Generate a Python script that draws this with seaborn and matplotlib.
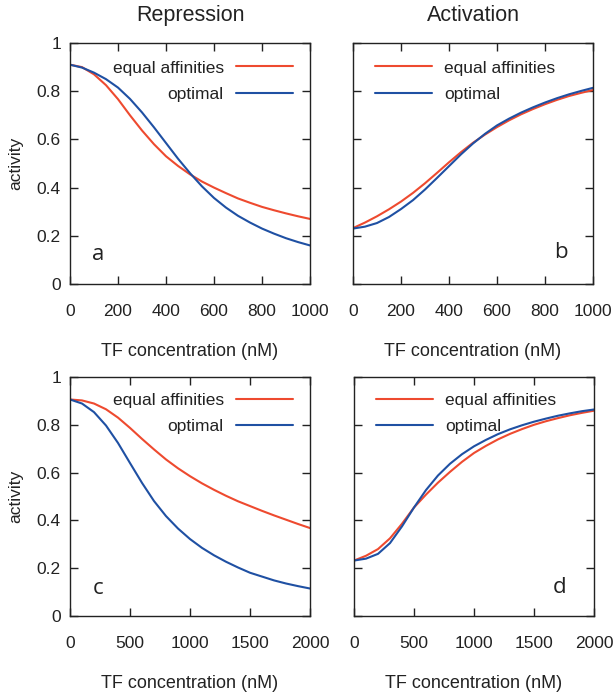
import numpy as np
import pandas as pd
import seaborn as sns
import matplotlib.pyplot as plt
from matplotlib.ticker import FormatStrFormatter

# values
x_short = [0, 50, 100, 150, 200, 250, 300, 350, 400, 450, 500,
           550, 600, 650, 700, 750, 800, 850, 900, 950, 1000]
x_long = [0, 100, 200, 300, 400, 500, 600, 700, 800, 900, 1000,
          1100, 1200, 1300, 1400, 1500, 1600, 1700, 1800, 1900, 2000]

rep_equal_a = [0.910, 0.900, 0.870, 0.825, 0.767, 0.700, 0.637, 0.580, 0.530, 0.490, 0.455,
               0.425, 0.400, 0.377, 0.355, 0.337, 0.320, 0.306, 0.293, 0.281, 0.270]
rep_opt_a = [0.910, 0.898, 0.877, 0.850, 0.815, 0.768, 0.712, 0.650, 0.585, 0.520, 0.460,
             0.405, 0.357, 0.317, 0.283, 0.255, 0.230, 0.209, 0.190, 0.174, 0.160]

act_equal_b = [0.232, 0.255, 0.281, 0.310, 0.342, 0.378, 0.418, 0.461, 0.505, 0.547, 0.586,
               0.620, 0.651, 0.679, 0.704, 0.726, 0.746, 0.764, 0.780, 0.793, 0.805]
act_opt_b = [0.230, 0.238, 0.253, 0.278, 0.311, 0.348, 0.392, 0.440, 0.489, 0.538, 0.583,
             0.623, 0.658, 0.686, 0.711, 0.733, 0.753, 0.771, 0.787, 0.801, 0.814]

rep_equal_c = [0.906, 0.902, 0.889, 0.865, 0.830, 0.787, 0.741, 0.697, 0.655, 0.618, 0.585,
               0.555, 0.528, 0.503, 0.480, 0.460, 0.440, 0.421, 0.403, 0.385, 0.368]
rep_opt_c = [0.906, 0.889, 0.853, 0.797, 0.724, 0.640, 0.557, 0.481, 0.418, 0.366, 0.322,
             0.285, 0.254, 0.227, 0.203, 0.181, 0.165, 0.149, 0.136, 0.125, 0.115]

act_equal_d = [0.232, 0.252, 0.280, 0.325, 0.386, 0.454, 0.508, 0.558, 0.603, 0.645, 0.682,
               0.712, 0.739, 0.762, 0.782, 0.800, 0.815, 0.828, 0.840, 0.850, 0.859]
act_opt_d = [0.232, 0.240, 0.260, 0.305, 0.375, 0.454, 0.527, 0.588, 0.637, 0.677, 0.710,
             0.737, 0.761, 0.781, 0.798, 0.813, 0.826, 0.838, 0.848, 0.857, 0.864]

labels = ["equal affinities", "optimal"]
RED = "#ee4a2f"
BLUE = "#1f50a3"
TXT = "#222222"

sns.set_style("ticks")
plt.rcParams['font.family'] = ['Liberation Sans', 'DejaVu Sans']
plt.rcParams.update({
    'xtick.direction': 'in', 'ytick.direction': 'in',
    'xtick.top': True, 'ytick.right': True,
    'xtick.major.size': 5.5, 'ytick.major.size': 5.5,
    'axes.edgecolor': TXT, 'xtick.color': TXT, 'ytick.color': TXT,
    'text.color': TXT, 'axes.labelcolor': TXT,
})

fig = plt.figure(figsize=(6.15, 6.95), dpi=100)
W, H = 615, 695
boxes = {
    'a': (70, 284, 240, 241),
    'b': (353, 284, 240, 241),
    'c': (70, 616, 240, 239),
    'd': (354, 616, 240, 239),
}
panels = {
    'a': (x_short, rep_equal_a, rep_opt_a, 1000, 200, "Repression", (117, 0.124), 0.928),
    'b': (x_short, act_equal_b, act_opt_b, 1000, 200, "Activation", (867, 0.129), 0.928),
    'c': (x_long, rep_equal_c, rep_opt_c, 2000, 500, None, (233, 0.117), 0.935),
    'd': (x_long, act_equal_d, act_opt_d, 2000, 500, None, (1717, 0.12), 0.935),
}

for key, (xs, eq, opt, xmax, xstep, title, letter_pos, leg_y) in panels.items():
    l, b, w, h = boxes[key]
    ax = fig.add_axes([l / W, (H - b) / H, w / W, h / H])
    df = pd.DataFrame({'x': xs * 2, 'y': eq + opt,
                       'kind': [labels[0]] * len(xs) + [labels[1]] * len(xs)})
    sns.lineplot(data=df, x='x', y='y', hue='kind', palette=[RED, BLUE],
                 linewidth=1.5, ax=ax)
    ax.set_xlim(0, xmax)
    ax.set_ylim(0, 1)
    ax.set_xticks(np.arange(0, xmax + 1, xstep))
    ax.set_yticks(np.arange(0, 1.01, 0.2))
    ax.yaxis.set_major_formatter(FormatStrFormatter('%g'))
    ax.tick_params(axis='x', labelsize=12.5, pad=14.5, width=1)
    ax.tick_params(axis='y', labelsize=12.5, pad=6.5, width=1)
    for s in ax.spines.values():
        s.set_linewidth(1)
    ax.set_xlabel("TF concentration (nM)", fontsize=13, labelpad=17.5)
    common = dict(frameon=False, fontsize=12.5, handlelength=3.3,
                  handletextpad=0.7, labelspacing=0.65, borderpad=0,
                  borderaxespad=0)
    if key in ('a', 'c'):
        ax.set_ylabel("activity", fontsize=12.5, labelpad=10)
        ax.legend(loc='upper right', bbox_to_anchor=(0.93, leg_y),
                  markerfirst=False, **common)
    else:
        ax.set_ylabel("")
        ax.tick_params(axis='y', labelleft=False)
        ax.legend(loc='upper left', bbox_to_anchor=(0.09, leg_y), **common)
    if title:
        ax.set_title(title, fontsize=15.5, pad=16)
    ax.text(letter_pos[0], letter_pos[1], key, fontsize=16, ha='center',
            va='center', family=['Open Sans', 'DejaVu Sans'])

fig.savefig("out.png", dpi=100)
